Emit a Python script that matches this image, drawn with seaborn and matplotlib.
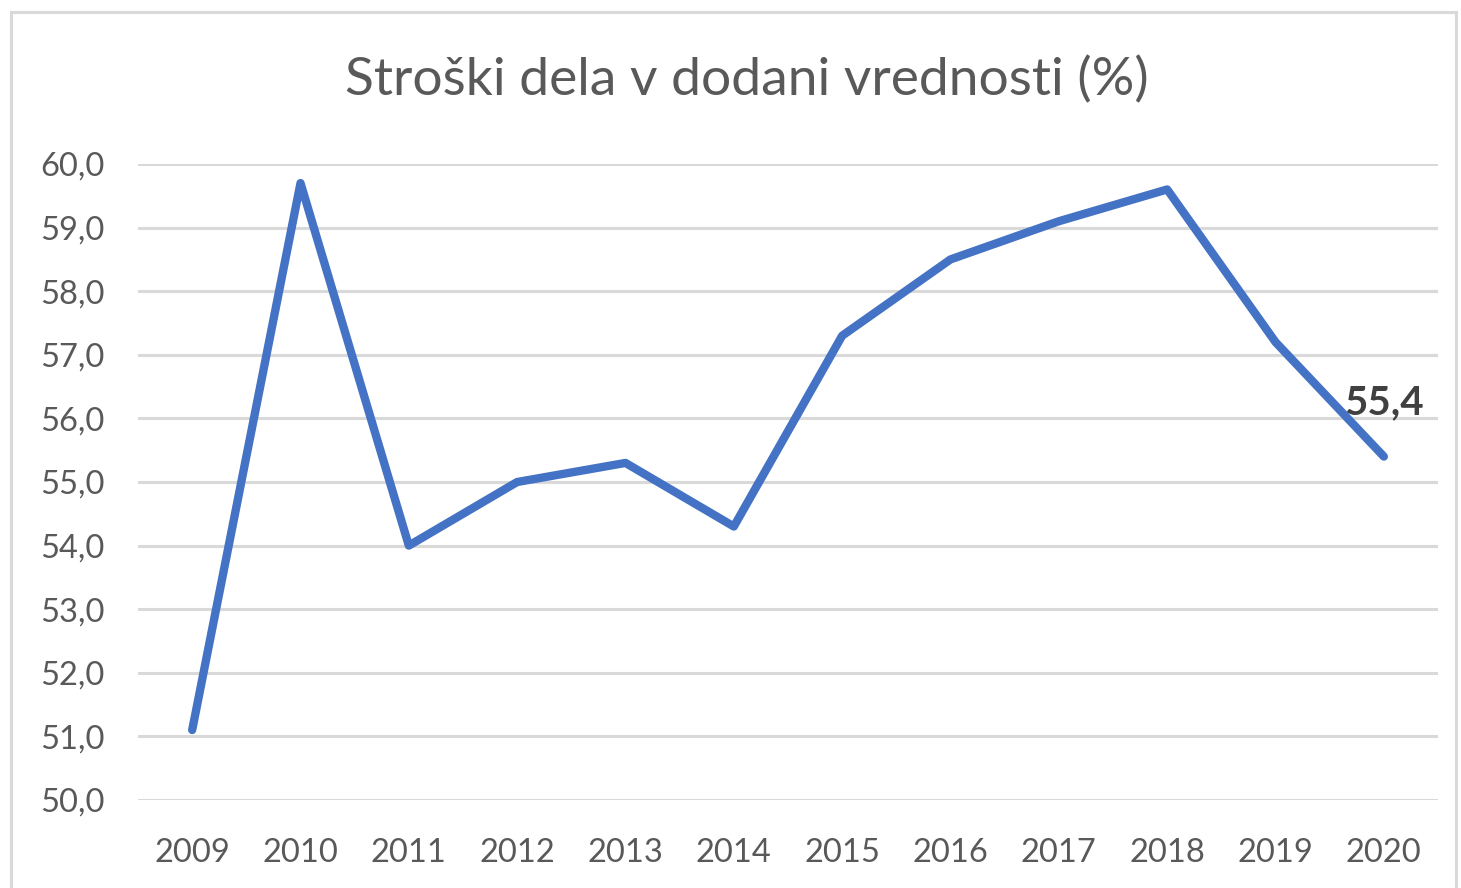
import matplotlib
matplotlib.use("Agg")
import matplotlib.pyplot as plt
import seaborn as sns
import pandas as pd
from matplotlib.patches import Rectangle

years = ["2009", "2010", "2011", "2012", "2013", "2014", "2015", "2016", "2017", "2018", "2019", "2020"]
values = [51.1, 59.7, 54.0, 55.0, 55.3, 54.3, 57.3, 58.5, 59.1, 59.6, 57.2, 55.4]
yticks = [50, 51, 52, 53, 54, 55, 56, 57, 58, 59, 60]
title = "Stroški dela v dodani vrednosti (%)"

sns.set_theme(style="white")
plt.rcParams['font.family'] = ['Lato', 'DejaVu Sans']

df = pd.DataFrame({"year": years, "value": values})
df["pos"] = range(len(years))

fig = plt.figure(figsize=(14.61, 8.88), dpi=100)
ax = fig.add_axes([138/1461, 1-800/888, (1438-138)/1461, (800-164)/888])

sns.lineplot(data=df, x="pos", y="value", ax=ax, color="#4472C4", linewidth=6,
             solid_capstyle="round", solid_joinstyle="round", zorder=3)

ax.set_xlim(-0.5, len(years) - 0.5)
ax.set_ylim(50, 60)
ax.set_xticks(range(len(years)))
ax.set_xticklabels(years)
ax.set_yticks(yticks)
ax.set_yticklabels([f"{v:.1f}".replace(".", ",") for v in yticks])
ax.tick_params(axis="both", labelsize=23.5, colors="#595959", length=0)
ax.tick_params(axis="x", pad=27)
ax.tick_params(axis="y", pad=24)
for lab in ax.get_yticklabels():
    lab.set_horizontalalignment("right")
ax.set_xlabel("")
ax.set_ylabel("")
for v in yticks:
    ax.axhline(v, color="#D9D9D9", linewidth=2.2, zorder=1)
for s in ax.spines.values():
    s.set_visible(False)

last = len(years) - 1
ax.annotate(f"{values[-1]:.1f}".replace(".", ","), xy=(last, values[-1]),
            xytext=(0, 39), textcoords="offset points", ha="center", va="center",
            fontsize=29, fontweight="bold", color="#404040", zorder=4)

fig.text(747/1461, 1-80/888, title, ha="center", va="center", fontsize=38.4, color="#595959")

fig.patches.append(Rectangle((11/1461, -0.1), (1456-11)/1461, 1.1 - 12/888,
                             transform=fig.transFigure, fill=False,
                             edgecolor="#D9D9D9", linewidth=2.2))

fig.savefig("out.png", dpi=100)
